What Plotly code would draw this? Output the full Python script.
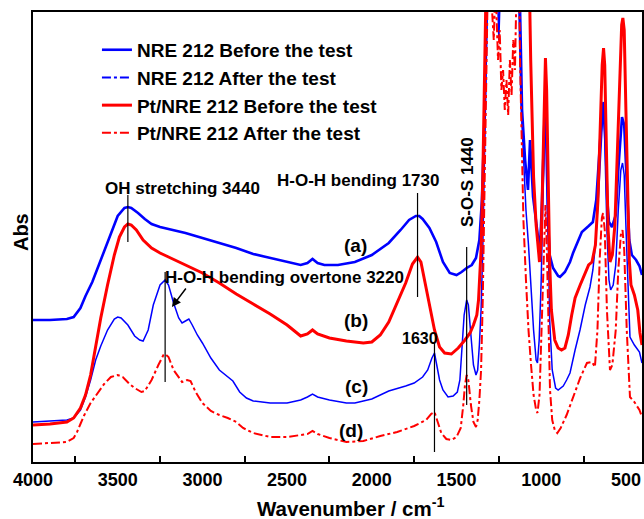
import plotly.graph_objects as go

# ---------------- data (absorbance, arbitrary units) -------------
wn_a = [4000, 3900, 3800, 3760, 3720, 3690, 3650, 3600, 3550, 3500, 3460, 3440, 3420, 3380, 3340,
        3300, 3250, 3200, 3100, 3000, 2900, 2800, 2700, 2600, 2500, 2420, 2380, 2350, 2320, 2280,
        2200, 2100, 2000, 1900, 1830, 1780, 1740, 1720, 1700, 1660, 1620, 1580, 1540, 1500, 1470,
        1440, 1410, 1385, 1365, 1350, 1335, 1320, 1200, 1128, 1113, 1095, 1078, 1066, 1048, 1025,
        1008, 995, 985, 978, 970, 960, 950, 930, 900, 889, 860, 830, 812, 760, 720, 695, 675, 655,
        640, 632, 622, 610, 600, 582, 560, 545, 530, 523, 510, 495, 480, 465, 440, 420, 405]
abs_a = [1.42, 1.42, 1.43, 1.45, 1.54, 1.66, 1.80, 2.02, 2.26, 2.46, 2.54, 2.55, 2.54, 2.49, 2.43,
         2.38, 2.35, 2.33, 2.29, 2.24, 2.19, 2.14, 2.08, 2.04, 2.00, 1.97, 1.99, 2.03, 1.99, 1.97,
         1.97, 2.00, 2.07, 2.19, 2.32, 2.42, 2.46, 2.46, 2.43, 2.34, 2.20, 2.00, 1.89, 1.87, 1.90,
         1.94, 1.97, 2.04, 2.22, 2.62, 3.42, 4.8, 4.8, 4.8, 3.52, 3.02, 2.72, 3.22, 2.65, 2.35,
         2.10, 2.62, 3.22, 3.59, 3.22, 2.42, 2.07, 1.94, 1.86, 1.85, 1.90, 2.00, 2.09, 2.30, 2.36,
         2.40, 2.62, 3.12, 3.52, 3.60, 3.32, 2.62, 2.40, 2.35, 2.47, 2.92, 3.37, 3.45, 3.37, 2.82,
         2.22, 2.07, 2.02, 1.96, 1.87]

wn_b = [4000, 3900, 3800, 3760, 3720, 3690, 3660, 3630, 3600, 3560, 3520, 3490, 3460, 3440, 3420,
        3390, 3350, 3300, 3250, 3200, 3150, 3100, 3000, 2900, 2800, 2700, 2600, 2500, 2420, 2380,
        2350, 2320, 2250, 2150, 2050, 2000, 1950, 1900, 1850, 1800, 1760, 1730, 1710, 1690, 1660,
        1630, 1600, 1570, 1530, 1490, 1450, 1420, 1400, 1380, 1370, 1355, 1345, 1335, 1325, 1200,
        1070, 1062, 1055, 1045, 1030, 1020, 1010, 1000, 990, 982, 975, 968, 960, 950, 940, 920, 900,
        880, 860, 840, 820, 800, 770, 745, 720, 700, 680, 665, 650, 640, 632, 625, 615, 605, 594,
        580, 565, 550, 535, 525, 518, 510, 500, 490, 480, 470, 450, 430, 417, 405]
abs_b = [0.37, 0.38, 0.40, 0.44, 0.54, 0.67, 0.87, 1.17, 1.44, 1.77, 2.07, 2.25, 2.35, 2.38, 2.37,
         2.32, 2.22, 2.14, 2.09, 2.05, 2.01, 1.97, 1.89, 1.79, 1.68, 1.58, 1.48, 1.37, 1.26, 1.28,
         1.32, 1.28, 1.24, 1.21, 1.19, 1.20, 1.27, 1.40, 1.59, 1.79, 1.98, 2.05, 2.00, 1.82, 1.57,
         1.32, 1.15, 1.09, 1.08, 1.14, 1.22, 1.29, 1.37, 1.47, 1.62, 2.12, 2.82, 3.82, 4.8, 4.8,
         4.8, 4.02, 3.42, 2.85, 2.37, 2.17, 2.00, 2.22, 3.02, 3.82, 4.04, 3.72, 2.82, 1.99, 1.52,
         1.22, 1.14, 1.12, 1.14, 1.27, 1.47, 1.64, 1.77, 1.87, 1.97, 2.00, 2.17, 2.62, 3.42, 3.97,
         4.14, 3.97, 3.12, 2.32, 2.00, 2.07, 2.37, 3.12, 4.02, 4.37, 4.44, 4.32, 3.52, 2.62, 2.02,
         1.77, 1.67, 1.52, 1.29, 1.17]

wn_c = [4000, 3900, 3800, 3760, 3720, 3690, 3660, 3630, 3600, 3560, 3520, 3500, 3480, 3440, 3400,
        3370, 3350, 3320, 3290, 3250, 3220, 3200, 3170, 3140, 3120, 3100, 3080, 3060, 3030, 3000,
        2950, 2900, 2860, 2820, 2780, 2740, 2700, 2600, 2500, 2420, 2380, 2350, 2320, 2250, 2150,
        2100, 2000, 1900, 1800, 1750, 1700, 1670, 1645, 1630, 1620, 1600, 1580, 1550, 1520, 1495,
        1480, 1470, 1455, 1440, 1430, 1415, 1400, 1385, 1375, 1365, 1355, 1345, 1335, 1325, 1315,
        1260, 1250, 1240, 1135, 1120, 1105, 1090, 1075, 1060, 1045, 1030, 1022, 1012, 1000, 990,
        980, 975, 968, 960, 950, 935, 915, 900, 870, 850, 830, 800, 771, 740, 712, 695, 680, 660,
        645, 635, 625, 612, 600, 590, 575, 560, 545, 530, 520, 510, 495, 476, 450, 420, 405]
abs_c = [0.40, 0.41, 0.42, 0.44, 0.52, 0.65, 0.82, 1.02, 1.16, 1.32, 1.43, 1.45, 1.44, 1.37, 1.26,
         1.22, 1.21, 1.32, 1.57, 1.77, 1.82, 1.77, 1.59, 1.44, 1.39, 1.41, 1.43, 1.37, 1.27, 1.19,
         1.04, 0.92, 0.86, 0.81, 0.70, 0.64, 0.61, 0.59, 0.59, 0.62, 0.65, 0.68, 0.65, 0.62, 0.59,
         0.59, 0.63, 0.71, 0.76, 0.79, 0.85, 0.92, 1.04, 1.09, 1.00, 0.82, 0.72, 0.65, 0.66, 0.70,
         0.82, 1.07, 1.47, 1.62, 1.57, 1.27, 0.97, 0.87, 0.92, 1.17, 1.52, 2.12, 3.12, 4.02, 4.8,
         4.8, 4.22, 4.8, 4.8, 3.62, 3.12, 2.52, 2.17, 1.72, 1.32, 1.02, 0.99, 1.22, 1.82, 2.62,
         3.27, 3.47, 3.12, 2.32, 1.42, 0.92, 0.74, 0.72, 0.76, 0.82, 0.89, 1.12, 1.32, 1.57, 1.75,
         1.92, 2.17, 2.72, 3.22, 3.52, 3.22, 2.32, 1.82, 1.72, 1.77, 1.97, 2.52, 2.92, 2.99, 2.87,
         2.12, 1.25, 1.17, 1.10, 0.99]

wn_d = [4000, 3900, 3800, 3760, 3740, 3720, 3700, 3660, 3620, 3580, 3540, 3500, 3470, 3430, 3400,
        3360, 3340, 3300, 3260, 3230, 3220, 3200, 3170, 3140, 3120, 3090, 3070, 3040, 3000, 2950,
        2900, 2850, 2800, 2760, 2700, 2600, 2500, 2420, 2380, 2350, 2320, 2250, 2150, 2050, 1950,
        1850, 1750, 1680, 1650, 1630, 1615, 1590, 1560, 1530, 1500, 1475, 1460, 1450, 1440, 1430,
        1415, 1400, 1385, 1375, 1365, 1355, 1345, 1335, 1325, 1315, 1300, 1280, 1270, 1255, 1245,
        1235, 1225, 1215, 1205, 1195, 1185, 1175, 1165, 1155, 1145, 1130, 1125, 1115, 1105, 1090,
        1075, 1060, 1045, 1030, 1022, 1010, 1000, 990, 980, 975, 968, 958, 948, 935, 920, 905, 885,
        850, 812, 770, 730, 700, 683, 668, 655, 642, 635, 625, 612, 600, 594, 580, 560, 545, 530,
        520, 510, 495, 476, 450, 420, 405]
abs_d = [0.18, 0.19, 0.20, 0.24, 0.30, 0.38, 0.46, 0.59, 0.69, 0.78, 0.85, 0.87, 0.85, 0.78, 0.74,
         0.70, 0.71, 0.82, 0.97, 1.07, 1.08, 1.05, 0.92, 0.84, 0.80, 0.82, 0.81, 0.70, 0.59, 0.51,
         0.47, 0.44, 0.40, 0.34, 0.29, 0.25, 0.25, 0.27, 0.28, 0.31, 0.28, 0.24, 0.20, 0.21, 0.26,
         0.30, 0.36, 0.42, 0.48, 0.50, 0.42, 0.29, 0.23, 0.22, 0.25, 0.34, 0.57, 0.77, 0.87, 0.82,
         0.57, 0.40, 0.35, 0.42, 0.62, 0.92, 1.62, 2.62, 3.82, 4.8, 4.8, 4.22, 4.8, 4.02, 4.32,
         3.72, 3.92, 3.52, 3.82, 3.47, 4.02, 3.67, 4.22, 3.92, 4.8, 4.8, 4.02, 3.12, 2.42, 1.82,
         1.32, 0.97, 0.67, 0.52, 0.49, 0.67, 1.22, 1.92, 2.47, 2.57, 2.22, 1.42, 0.72, 0.42, 0.32,
         0.29, 0.34, 0.47, 0.65, 0.84, 0.99, 1.00, 0.95, 1.32, 2.02, 2.44, 2.49, 2.32, 1.52, 1.02,
         0.92, 0.97, 1.32, 1.92, 2.27, 2.32, 2.12, 1.32, 0.65, 0.60, 0.52, 0.45]

names = ["NRE 212 Before the test", "NRE 212 After the test",
         "Pt/NRE 212 Before the test", "Pt/NRE 212 After the test"]

x_tick_vals = [4000, 3500, 3000, 2500, 2000, 1500, 1000, 500]
x_tick_text = ["4000", "3500", "3000", "2500", "2000", "1500", "1000", "500"]
x_minor_vals = [3750, 3250, 2750, 2250, 1750, 1250, 750]

# peak marker lines: (wavenumber, y_start, y_end)
peak_lines = [(3440, 2.20, 2.67), (1730, 1.65, 2.69), (1440, 0.57, 2.15),
              (1630, 0.10, 1.19), (3220, 0.80, 1.90)]

FONT = "Liberation Sans, Arial, sans-serif"
BLUE = "#0000FF"
RED = "#FF0000"

fig = go.Figure()
fig.add_trace(go.Scatter(x=wn_a, y=abs_a, mode="lines", name=names[0], legendrank=1,
                         line=dict(color=BLUE, width=2.6)))
fig.add_trace(go.Scatter(x=wn_c, y=abs_c, mode="lines", name=names[1], showlegend=False,
                         line=dict(color=BLUE, width=1.5)))
fig.add_trace(go.Scatter(x=[None], y=[None], mode="lines", name=names[1], legendrank=2,
                         line=dict(color=BLUE, width=2, dash="dashdot")))
fig.add_trace(go.Scatter(x=wn_b, y=abs_b, mode="lines", name=names[2], legendrank=3,
                         line=dict(color=RED, width=3)))
fig.add_trace(go.Scatter(x=wn_d, y=abs_d, mode="lines", name=names[3], legendrank=4,
                         line=dict(color=RED, width=2, dash="dashdot")))

for wx, y0, y1 in peak_lines:
    fig.add_shape(type="line", x0=wx, x1=wx, y0=y0, y1=y1, xref="x", yref="y",
                  line=dict(color="black", width=1.2))

texts = [
    ("OH stretching 3440", 3117, 2.74, 0, 17),
    ("H-O-H bending 1730", 2079, 2.82, 0, 17),
    ("S-O-S 1440", 1438, 2.80, -90, 17),
    ("(a)", 2099, 2.17, 0, 19),
    ("(b)", 2093, 1.42, 0, 19),
    ("(c)", 2093, 0.76, 0, 19),
    ("(d)", 2123, 0.32, 0, 19),
    ("1630", 1715, 1.24, 0, 16),
    ("H-O-H bending overtone 3220", 2518, 1.85, 0, 17),
]
for t, xx, yy, ang, sz in texts:
    fig.add_annotation(x=xx, y=yy, xref="x", yref="y", text=t, showarrow=False,
                       textangle=ang, xanchor="center", yanchor="middle",
                       font=dict(family=FONT, size=sz, color="black", weight="bold"))

# arrow for overtone label
fig.add_annotation(x=3180, y=1.55, ax=3091, ay=1.75, xref="x", yref="y", axref="x", ayref="y",
                   text="", showarrow=True, arrowhead=2, arrowsize=1.2, arrowwidth=1.5,
                   arrowcolor="black")

# axis titles
fig.add_annotation(x=0.522, y=-0.1, xref="paper", yref="paper",
                   xanchor="center", yanchor="middle",
                   text="Wavenumber / cm<sup>-1</sup>", showarrow=False,
                   font=dict(family=FONT, size=20.5, color="black", weight="bold"))
fig.add_annotation(x=-0.0197, y=0.511, xref="paper", yref="paper", text="Abs",
                   xanchor="center", yanchor="middle", showarrow=False, textangle=-90,
                   font=dict(family=FONT, size=20, color="black", weight="bold"))

fig.update_layout(
    width=644, height=519,
    margin=dict(l=33, r=2, t=12, b=57, autoexpand=False),
    paper_bgcolor="white", plot_bgcolor="white",
    font=dict(family=FONT, color="black"),
    legend=dict(x=0.105, y=0.958, xanchor="left", yanchor="top",
                font=dict(family=FONT, size=19, color="black", weight="bold"),
                bgcolor="rgba(0,0,0,0)", tracegroupgap=0),
)
fig.update_xaxes(
    range=[4000, 405], showline=True, linewidth=2, linecolor="black", mirror=True,
    showgrid=False, zeroline=False, automargin=False,
    tickmode="array", tickvals=x_tick_vals, ticktext=x_tick_text, ticks="",
    tickfont=dict(family=FONT, size=18, color="black", weight="bold"),
    minor=dict(tickmode="array", tickvals=x_minor_vals, ticks="inside", ticklen=6,
               tickwidth=2, tickcolor="black", showgrid=False),
)
fig.update_yaxes(
    range=[0, 4.5], showline=True, linewidth=2, linecolor="black", mirror=True,
    showgrid=False, zeroline=False, ticks="", showticklabels=False, automargin=False,
)

# remove the page's default 8 px body margin so the figure sits at the window origin
fig.write_html("out.html", config={"displayModeBar": False},
               post_script="document.body.style.margin='0px';"
                           "document.documentElement.style.overflow='hidden';")
